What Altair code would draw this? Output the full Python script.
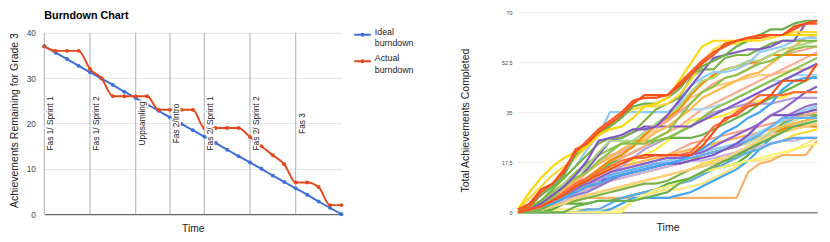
import altair as alt
import pandas as pd

FONT = "Liberation Sans"

# ---------------- Left chart data ----------------
time_idx = list(range(27))
ideal = [37, 35.6, 34.2, 32.7, 31.3, 29.9, 28.5, 27.0, 25.6, 24.2, 22.8, 21.3, 19.9,
         18.5, 17.1, 15.7, 14.2, 12.8, 11.4, 10.0, 8.5, 7.1, 5.7, 4.3, 2.8, 1.4, 0]
actual = [37, 36, 36, 36, 32, 30, 26, 26, 26, 26, 23, 23, 23, 23, 19, 19, 19, 19,
          17, 15, 13, 11, 7, 7, 6, 2, 2]
phase_names = ["Fas 1/ Sprint 1", "Fas 1/ Sprint 2", "Uppsamling", "Fas 2/Intro",
               "Fas 2/ Sprint 1", "Fas 2/ Sprint 2", "Fas 3"]
phase_pos = [0, 4, 8, 11, 14, 18, 22]
phase_label_y = [20, 20, 20, 20, 20, 20, 20]
y_top = [40] * 7
y_bottom = [0] * 7
left_ticks = [0, 10, 20, 30, 40]

# ---------------- Right chart data ----------------
s01 = [0,1,1,1,1,1,1,1,1,1,4,6,7,8,8,9,10,12,14,16,18,18,19,20,22,24,26]
s02 = [0,0,1,2,3,4,5,5,5,5,5,5,5,5,5,5,5,5,5,5,14,17,18,20,20,20,25]
s03 = [0,0,0,0,0,0,0,0,1,3,5,5,5,5,6,7,9,11,13,15,18,22,26,30,33,33,33]
s04 = [0,0,0,1,3,3,3,4,4,5,6,7,8,10,11,12,14,16,16,17,20,24,26,29,31,32,34]
s05 = [0,1,2,4,5,7,8,10,12,14,15,16,17,18,19,20,22,24,25,26,27,28,30,30,31,31,32]
s06 = [0,1,2,3,5,6,8,10,11,12,13,14,15,16,17,18,20,21,22,23,25,26,28,29,30,30,30]
s07 = [0,0,1,2,4,5,6,7,8,9,10,11,12,13,14,15,17,18,20,21,22,23,24,25,27,28,29]
s08 = [0,0,1,2,3,4,5,6,7,8,9,10,10,11,13,15,16,17,18,19,22,25,28,31,34,34,34]
s09 = [0,1,2,3,4,6,8,9,11,12,13,14,15,16,17,18,18,19,20,21,22,23,24,25,25,26,26]
s10 = [0,1,2,3,5,7,9,11,13,14,15,16,17,18,19,20,21,22,23,23,24,26,28,30,32,34,38]
s11 = [0,0,1,2,3,5,6,7,8,9,10,11,12,13,14,15,16,17,19,21,23,25,27,28,29,30,31]
s12 = [0,0,0,0,0,0,1,1,3,5,6,7,8,9,10,11,13,15,17,19,21,22,24,25,26,26,26]
s13 = [0,1,2,3,5,6,7,9,11,13,14,15,16,17,18,19,20,21,22,23,25,27,30,33,35,37,38]
s14 = [0,0,0,0,0,0,0,0,0,0,4,6,8,9,10,12,14,15,16,17,18,19,20,21,22,23,24]
s15 = [0,1,2,4,6,8,10,12,14,15,16,17,18,20,22,24,25,26,27,28,29,30,31,32,33,34,35]
s16 = [0,0,0,0,0,2,3,4,4,4,4,5,6,7,10,12,14,16,18,20,22,24,26,28,30,31,32]
s17 = [0,1,3,5,7,9,11,13,15,16,17,18,19,20,21,22,23,24,25,26,27,28,29,30,31,32,33]
s18 = [0,1,2,3,5,7,9,11,13,14,15,16,17,18,19,20,21,22,23,24,26,28,30,32,34,36,37]
s19 = [0,1,2,4,6,8,10,12,13,14,15,16,17,17,18,19,20,21,22,24,25,27,30,33,33,33,33]
s20 = [0,1,3,5,7,9,10,11,12,13,14,15,16,17,17,18,19,20,22,24,27,31,34,34,34,35,36]
s21 = [0,1,2,3,5,7,10,13,16,17,18,20,22,25,28,32,33,33,34,36,38,39,40,40,42,42,42]
s22 = [0,0,1,3,5,8,11,14,17,20,23,26,29,32,36,40,42,44,45,46,47,48,48,49,50,50,51]
s23 = [0,1,2,3,5,7,9,11,14,16,19,22,24,26,28,30,33,35,36,37,38,38,38,39,40,40,40]
s24 = [0,0,1,3,5,8,11,14,17,19,21,23,25,26,26,26,27,29,31,33,35,38,40,42,44,46,48]
s25 = [0,1,2,4,6,9,12,15,18,19,21,23,26,28,30,33,36,38,40,42,44,46,48,50,52,54,56]
s26 = [0,1,2,3,5,7,9,10,12,13,14,15,16,17,18,20,22,25,28,30,33,35,38,43,46,47,47]
s27 = [0,1,2,4,6,8,10,12,14,15,16,17,18,19,19,20,21,23,25,27,29,31,34,36,39,42,44]
s28 = [0,1,2,4,6,9,12,15,18,21,24,27,30,33,35,36,36,37,38,40,42,44,46,46,48,48,48]
s29 = [0,2,4,7,10,14,17,20,22,24,25,25,25,26,28,30,33,36,38,40,42,44,46,48,50,52,54]
s30 = [0,1,3,5,8,11,15,20,25,26,28,30,30,30,30,30,32,34,36,38,40,42,44,46,48,50,52]
s31 = [0,1,2,4,7,10,14,17,20,21,23,27,30,32,35,38,42,45,47,48,50,53,55,55,56,57,58]
s32 = [0,1,3,5,8,11,14,17,19,22,24,25,28,30,33,36,40,42,44,46,48,49,52,55,58,61,62]
s33 = [0,1,2,4,6,9,12,15,18,20,23,27,31,33,36,41,45,48,50,51,52,53,55,55,55,55,55]
s34 = [0,1,3,6,10,13,16,21,25,25,25,28,31,34,37,42,46,47,50,51,53,53,55,57,58,59,60]
s35 = [0,1,3,5,9,12,14,18,21,24,24,24,26,28,33,38,42,44,47,48,50,52,53,55,57,58,58]
s36 = [1,3,6,9,12,16,22,27,35,35,35,35,35,35,38,44,47,49,49,50,52,56,57,58,60,61,61]
s37 = [0,1,4,8,12,16,20,24,26,26,28,32,36,38,40,47,50,50,54,55,55,57,59,60,60,60,60]
s38 = [0,1,3,6,9,13,18,25,26,27,29,29,30,34,39,44,49,54,55,56,57,57,58,60,60,66,67]
s39 = [1,5,9,13,16,19,23,27,30,34,36,37,37,38,41,46,52,57,59,59,60,60,61,62,63,63,63]
s40 = [0,2,6,9,13,20,24,28,30,33,37,38,38,40,43,48,51,53,55,58,60,62,64,64,66,67,67]
s41 = [1,7,12,16,19,21,23,27,29,30,33,37,38,40,46,52,58,60,60,60,60,61,62,62,62,62,62]
s42 = [0,1,2,4,7,10,12,14,16,18,19,19,20,20,20,21,25,30,32,35,38,41,41,41,42,42,42]
s43 = [0,1,2,4,6,9,11,13,15,17,19,20,20,20,20,20,23,28,33,34,37,38,41,46,46,46,52]
s44 = [1,2,7,10,15,21,25,29,32,35,39,40,40,41,45,49,53,56,58,60,61,61,62,62,64,66,66]
s45 = [1,3,8,10,14,22,24,28,31,34,38,41,41,41,44,48,52,55,59,60,61,62,62,62,65,66,67]

series_list = [s01, s02, s03, s04, s05, s06, s07, s08, s09, s10, s11, s12, s13, s14, s15,
               s16, s17, s18, s19, s20, s21, s22, s23, s24, s25, s26, s27, s28, s29, s30,
               s31, s32, s33, s34, s35, s36, s37, s38, s39, s40, s41, s42, s43, s44, s45]
series_colors = ["#ffe57f", "#f9b06a", "#42a5f5", "#5cb030", "#bbdefb", "#fb8c00", "#fdd835",
                 "#7cb342", "#c5b3e6", "#c5e1a5", "#ffcc80", "#5ea9ef", "#9575cd", "#fff176",
                 "#f8a58c", "#6ab04c", "#ffb74d", "#90caf9", "#64b5f6", "#7e57c2", "#ffeb3b",
                 "#ffcc80", "#b39ddb", "#6ab04c", "#ffab91", "#42a5f5", "#8e63ce", "#a8d3f7",
                 "#8bc34a", "#7e57c2", "#f8a58c", "#ffb74d", "#fb8c00", "#aed581", "#8bc34a",
                 "#90caf9", "#7cb342", "#7e57c2", "#fdd835", "#6ab04c", "#ffd600", "#ff6d3a",
                 "#f4511e", "#ff5722", "#f4511e"]
right_ticks = [0, 17.5, 35, 52.5, 70]

# ---------------- Build tables ----------------
left_df = pd.DataFrame({
    "t": time_idx * 2,
    "v": ideal + actual,
    "kind": ["Ideal burndown"] * len(ideal) + ["Actual burndown"] * len(actual),
})
phase_df = pd.DataFrame({"name": phase_names, "t": phase_pos, "ly": phase_label_y,
                         "y0": y_bottom, "y1": y_top})

rows = []
for k, vals in enumerate(series_list):
    sid = f"s{k + 1:02d}"
    for t, v in zip(time_idx, vals):
        rows.append({"sid": sid, "t": t, "v": v})
right_df = pd.DataFrame(rows)
sids = [f"s{k + 1:02d}" for k in range(len(series_list))]

# ---------------- Left chart ----------------
xs_left = alt.Scale(domain=[0, 26], nice=False, zero=False)
ys_left = alt.Scale(domain=[0, 44.53], nice=False)

base_x_axis = alt.Axis(labels=False, ticks=False, grid=False, title="Time",
                       domainColor="#444444", titleFontSize=10.5, titleFontWeight="normal",
                       titleColor="#222222", titlePadding=10, titleFont=FONT)

rules = alt.Chart(phase_df).mark_rule(color="#aaaaaa", strokeWidth=1).encode(
    x=alt.X("t:Q", scale=xs_left, axis=base_x_axis),
    y=alt.Y("y0:Q", scale=ys_left),
    y2="y1:Q",
)

legend_symbol = "M-1,0H1M-0.12,0A0.12,0.12,0,1,1,0.12,0A0.12,0.12,0,1,1,-0.12,0"

lines = alt.Chart(left_df).mark_line(
    strokeWidth=2, interpolate="monotone",
    point=alt.OverlayMarkDef(size=16, filled=True),
).encode(
    x=alt.X("t:Q", scale=xs_left, axis=base_x_axis),
    y=alt.Y("v:Q", scale=ys_left,
            axis=alt.Axis(values=left_ticks, title="Achievements Remaining for Grade 3",
                          domain=False, ticks=False, labelPadding=9, labelFontSize=8.5,
                          labelColor="#444444", gridColor="#e6e6e6",
                          titleFontSize=10.7, titleFontWeight="normal", titleColor="#222222",
                          titleFont=FONT, titleX=-30, titleY=110, titleBaseline="middle")),
    color=alt.Color("kind:N",
                    scale=alt.Scale(domain=["Ideal burndown", "Actual burndown"],
                                    range=["#3c6fd9", "#e4471b"]),
                    legend=alt.Legend(title=None, orient="none", legendX=315, legendY=13.5,
                                      labelFontSize=9, labelColor="#222222", labelFont=FONT,
                                      labelExpr="split(datum.label, ' ')",
                                      labelBaseline="alphabetic", labelOffset=3,
                                      symbolType=legend_symbol, symbolSize=289,
                                      symbolStrokeWidth=2, rowPadding=3, padding=0)),
    order=alt.Order("kind:N", sort="descending"),
)

halo = alt.Chart(phase_df).mark_text(
    angle=270, align="center", baseline="top", dy=2, fontSize=8.5, font=FONT,
    stroke="white", strokeWidth=3, fill="white",
).encode(x=alt.X("t:Q", scale=xs_left), y=alt.Y("ly:Q", scale=ys_left), text="name:N")

labels = alt.Chart(phase_df).mark_text(
    angle=270, align="center", baseline="top", dy=2, fontSize=8.5, font=FONT, color="#222222",
).encode(x=alt.X("t:Q", scale=xs_left), y=alt.Y("ly:Q", scale=ys_left), text="name:N")

left = alt.layer(rules, lines, halo, labels).properties(
    width=303, height=206,
    title=alt.TitleParams("Burndown Chart", anchor="start", frame="group", fontSize=11,
                          fontWeight="bold", font=FONT, color="#000000", offset=-18,
                          baseline="alphabetic"),
)

# ---------------- Right chart ----------------
right = alt.Chart(right_df).mark_line(strokeWidth=2.2).encode(
    x=alt.X("t:Q", scale=alt.Scale(domain=[0, 26], nice=False, zero=False),
            axis=alt.Axis(labels=False, ticks=False, grid=False, title="Time",
                          domainColor="#888888", domainWidth=1.5, titleFontSize=10.7,
                          titleFontWeight="normal", titleColor="#222222", titlePadding=11,
                          titleFont=FONT)),
    y=alt.Y("v:Q", scale=alt.Scale(domain=[0, 70], nice=False),
            axis=alt.Axis(values=right_ticks, title="Total Achievements Completed",
                          domain=False, ticks=False, labelPadding=6, labelFontSize=5.5,
                          labelColor="#444444", gridColor="#eeeeee", format=".1~f",
                          labelExpr="replace(datum.label, '.', ',')",
                          titleFontSize=10.7, titleFontWeight="normal", titleColor="#222222",
                          titleFont=FONT, titleX=-53, titleY=110, titleBaseline="middle")),
    color=alt.Color("sid:N", scale=alt.Scale(domain=sids, range=series_colors), legend=None),
    detail="sid:N",
).properties(width=305, height=204)

chart = alt.hconcat(left, right, spacing=46).resolve_scale(color="independent").properties(
    padding={"left": 0, "top": 0, "right": 0, "bottom": 0}
).configure(
    font=FONT, style={"guide-label": {"lineHeight": 12}}
).configure_view(stroke=None).configure_axis(labelFont=FONT)

chart.save("out.html", embed_options={"renderer": "svg", "actions": False})
